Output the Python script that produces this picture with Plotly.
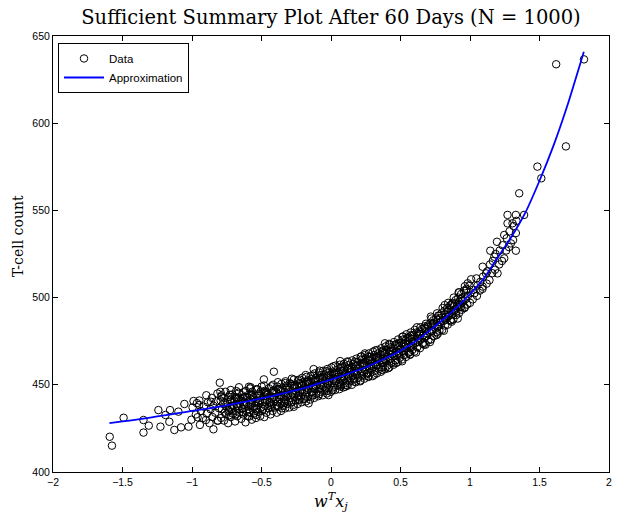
import plotly.graph_objects as go

# ---------------- data ----------------
curve_x = [-1.594, -1.5, -1.4, -1.3, -1.2, -1.1, -1.0, -0.9, -0.8, -0.7, -0.6, -0.5,
           -0.4, -0.3, -0.2, -0.1, 0.0, 0.1, 0.2, 0.3, 0.4, 0.5, 0.6, 0.7, 0.8, 0.9,
           1.0, 1.1, 1.2, 1.3, 1.4, 1.5, 1.6, 1.7, 1.819]
curve_y = [428, 429, 430, 431.2, 432.5, 433.7, 435, 436.2, 437.5, 439, 440.5, 442.2,
           444, 446, 448, 450.5, 453, 455.7, 458.5, 461.8, 465.5, 469.5, 474.5, 480.5,
           487, 494, 502, 511, 523, 535, 549, 567, 587, 610, 641]

left_points = [
    (-1.592, 420.2), (-1.576, 415.1), (-1.492, 431.1), (-1.349, 429.8), (-1.349, 422.6),
    (-1.311, 426.6), (-1.242, 435.5), (-1.227, 426.0), (-1.191, 432.7), (-1.158, 435.5),
    (-1.163, 428.8), (-1.127, 424.1), (-1.098, 434.6), (-1.079, 425.6), (-1.055, 439.0),
    (-1.025, 426.0), (-0.989, 440.7), (-0.960, 431.4), (-0.948, 438.4), (-0.900, 429.8),
    (-0.864, 440.3), (-0.846, 424.5), (-0.800, 451.2), (-0.796, 446.0), (-0.789, 443.2),
    (-0.817, 429.4), (-0.721, 447.0), (-0.662, 448.6), (-0.578, 448.6), (-0.590, 431.8),
    (-0.542, 432.7),
    (-1.004, 430), (-0.996, 437), (-0.972, 433), (-0.965, 439.5), (-0.943, 427),
    (-0.936, 435), (-0.947, 441), (-0.922, 431), (-0.915, 437.5), (-0.893, 433.5),
    (-0.886, 440), (-0.897, 444), (-0.874, 428), (-0.866, 436), (-0.853, 431.5),
    (-0.846, 438), (-0.857, 442.5), (-0.833, 434), (-0.826, 440.5), (-0.813, 429.5),
    (-0.806, 436.5), (-0.817, 445),
]

band_points_neg = [
    (-0.790, 431), (-0.784, 436), (-0.794, 441), (-0.787, 444),
    (-0.770, 429.5), (-0.764, 434), (-0.774, 439), (-0.767, 442.5),
    (-0.755, 433), (-0.750, 437.5), (-0.759, 446),
    (-0.740, 428), (-0.734, 435.5), (-0.744, 440), (-0.737, 443),
    (-0.720, 431.5), (-0.715, 436), (-0.724, 441.5),
    (-0.705, 433.5), (-0.700, 438), (-0.709, 444.5),
    (-0.690, 429), (-0.684, 435), (-0.694, 440.5), (-0.687, 443),
    (-0.675, 432), (-0.670, 437), (-0.679, 442),
    (-0.660, 434), (-0.655, 439), (-0.664, 445.5),
    (-0.645, 430.5), (-0.639, 436.5), (-0.649, 441), (-0.642, 444),
    (-0.630, 433), (-0.625, 438.5), (-0.634, 442.5),
    (-0.615, 428.5), (-0.609, 435), (-0.619, 440), (-0.612, 446.5),
    (-0.600, 432), (-0.595, 437.5), (-0.604, 443),
    (-0.585, 434), (-0.580, 439), (-0.589, 444.5),
    (-0.570, 430), (-0.564, 436.5), (-0.574, 441.5), (-0.567, 446),
    (-0.555, 433.5), (-0.550, 438), (-0.559, 443),
    (-0.540, 431), (-0.534, 436), (-0.544, 440.5), (-0.537, 447.5),
    (-0.525, 434.5), (-0.520, 439.5), (-0.529, 444),
    (-0.510, 432), (-0.504, 437), (-0.514, 442.5), (-0.507, 446),
    (-0.495, 435), (-0.490, 440), (-0.499, 449),
    (-0.480, 431.5), (-0.474, 438), (-0.484, 443.5), (-0.477, 446.5),
    (-0.465, 434), (-0.460, 441), (-0.469, 445),
    (-0.450, 436.5), (-0.444, 440), (-0.454, 444.5), (-0.447, 448),
    (-0.435, 433), (-0.430, 438.5), (-0.439, 442.5),
    (-0.420, 435), (-0.414, 440), (-0.424, 445.5), (-0.417, 450),
    (-0.405, 437), (-0.400, 442), (-0.409, 447),
    (-0.390, 434), (-0.384, 440), (-0.394, 445), (-0.387, 449),
    (-0.375, 437.5), (-0.370, 442), (-0.379, 447.5),
    (-0.360, 435), (-0.354, 439.5), (-0.364, 444), (-0.357, 450.5),
    (-0.345, 438), (-0.340, 443), (-0.349, 448),
    (-0.330, 436.5), (-0.324, 441), (-0.334, 446), (-0.327, 452),
    (-0.315, 439), (-0.310, 444), (-0.319, 449.5),
    (-0.300, 437), (-0.294, 442.5), (-0.304, 447), (-0.297, 451),
    (-0.285, 440), (-0.280, 445), (-0.289, 450.5),
    (-0.270, 438.5), (-0.264, 443), (-0.274, 448), (-0.267, 453),
    (-0.255, 441), (-0.250, 446), (-0.259, 450),
    (-0.240, 439), (-0.234, 444), (-0.244, 449), (-0.237, 452.5),
    (-0.225, 441.5), (-0.220, 446.5), (-0.229, 451),
    (-0.210, 440), (-0.204, 445), (-0.214, 449.5), (-0.207, 454),
    (-0.195, 442), (-0.190, 447), (-0.199, 451.5),
    (-0.180, 440.5), (-0.174, 445.5), (-0.184, 450), (-0.177, 454.5),
    (-0.165, 443), (-0.160, 448), (-0.169, 452.5),
    (-0.150, 441.5), (-0.144, 446), (-0.154, 451), (-0.147, 455),
    (-0.135, 444), (-0.130, 449), (-0.139, 453.5),
    (-0.120, 442.5), (-0.114, 447.5), (-0.124, 452), (-0.117, 456.5),
    (-0.105, 445), (-0.100, 450), (-0.109, 454),
    (-0.090, 443.5), (-0.084, 448), (-0.094, 453), (-0.087, 457),
    (-0.075, 446), (-0.070, 451), (-0.079, 455.5),
    (-0.060, 444), (-0.054, 449), (-0.064, 453.5), (-0.057, 458),
    (-0.045, 447), (-0.040, 452), (-0.049, 456),
    (-0.030, 445), (-0.024, 450), (-0.034, 454.5), (-0.027, 459),
    (-0.015, 448), (-0.010, 453), (-0.019, 457),
]

band_points_pos = [
    (0.000, 446), (0.006, 451), (-0.004, 455.5), (0.003, 460),
    (0.015, 448.5), (0.020, 453.5), (0.011, 457.5),
    (0.030, 447), (0.036, 452), (0.026, 456), (0.033, 461),
    (0.045, 449.5), (0.050, 454.5), (0.041, 458.5),
    (0.060, 447.5), (0.066, 452.5), (0.056, 457), (0.063, 461.5),
    (0.075, 450), (0.080, 455), (0.071, 459.5),
    (0.090, 448.5), (0.096, 453.5), (0.086, 458), (0.093, 462),
    (0.105, 451), (0.110, 456), (0.101, 460.5),
    (0.120, 449.5), (0.126, 454), (0.116, 459), (0.123, 463),
    (0.135, 452), (0.140, 457), (0.131, 461.5),
    (0.150, 450), (0.156, 455), (0.146, 459.5), (0.153, 464),
    (0.165, 453), (0.170, 458), (0.161, 462),
    (0.180, 451.5), (0.186, 456), (0.176, 460.5), (0.183, 465),
    (0.195, 454), (0.200, 459), (0.191, 463),
    (0.210, 452), (0.216, 457), (0.206, 461.5), (0.213, 466),
    (0.225, 455), (0.230, 460), (0.221, 464.5),
    (0.240, 453.5), (0.246, 458.5), (0.236, 462.5), (0.243, 467),
    (0.255, 456), (0.260, 461), (0.251, 465),
    (0.270, 454.5), (0.276, 459.5), (0.266, 464), (0.273, 468),
    (0.285, 457), (0.290, 462), (0.281, 466),
    (0.300, 455), (0.306, 460.5), (0.296, 465), (0.303, 469),
    (0.315, 458), (0.320, 463), (0.311, 467),
    (0.330, 456.5), (0.336, 461.5), (0.326, 466), (0.333, 470),
    (0.345, 459), (0.350, 464), (0.341, 468),
    (0.360, 457.5), (0.366, 462.5), (0.356, 467), (0.363, 471),
    (0.375, 460), (0.380, 465), (0.371, 469),
    (0.390, 459), (0.396, 464), (0.386, 468.5), (0.393, 472),
    (0.405, 461), (0.410, 466), (0.401, 470),
    (0.420, 460), (0.426, 465), (0.416, 469.5), (0.423, 473),
    (0.435, 462.5), (0.440, 467.5), (0.431, 471.5),
    (0.450, 461.5), (0.456, 466.5), (0.446, 471), (0.453, 474.5),
    (0.465, 464), (0.470, 469), (0.461, 473),
    (0.480, 463), (0.486, 468), (0.476, 472.5), (0.483, 476),
    (0.495, 465.5), (0.500, 470.5), (0.491, 474),
    (0.510, 464.5), (0.516, 469.5), (0.506, 474), (0.513, 477.5),
    (0.525, 467), (0.530, 472), (0.521, 476),
    (0.540, 466), (0.546, 471), (0.536, 475.5), (0.543, 479),
    (0.555, 468.5), (0.560, 473.5), (0.551, 477),
    (0.570, 467.5), (0.576, 472.5), (0.566, 477), (0.573, 480),
    (0.585, 470), (0.590, 475), (0.581, 478.5),
    (0.600, 469), (0.606, 474), (0.596, 478.5), (0.603, 481.5),
    (0.620, 471.5), (0.625, 476.5), (0.616, 480),
    (0.640, 471), (0.646, 476), (0.636, 480.5), (0.643, 483),
    (0.660, 473.5), (0.665, 478.5), (0.656, 482),
    (0.680, 473), (0.686, 478), (0.676, 482.5), (0.683, 485),
    (0.700, 475.5), (0.705, 480.5), (0.696, 484),
    (0.720, 476), (0.726, 481), (0.716, 485.5), (0.723, 488),
    (0.740, 478), (0.745, 483), (0.736, 487),
    (0.760, 478.5), (0.766, 483.5), (0.756, 488), (0.763, 491),
    (0.780, 481), (0.785, 486), (0.776, 489.5),
    (0.800, 481.5), (0.806, 486.5), (0.796, 491), (0.803, 494),
    (0.820, 484), (0.825, 489), (0.816, 492.5),
    (0.840, 484.5), (0.846, 489.5), (0.836, 494), (0.843, 497),
    (0.860, 487), (0.865, 492), (0.856, 495.5),
    (0.880, 487.5), (0.886, 492.5), (0.876, 497), (0.883, 500),
    (0.900, 490), (0.905, 495), (0.896, 498.5),
    (0.920, 491), (0.926, 496), (0.916, 500), (0.923, 503),
    (0.940, 493), (0.945, 498), (0.936, 502),
    (0.960, 494), (0.966, 499), (0.956, 504), (0.963, 506.5),
    (0.980, 496), (0.985, 501), (0.976, 505),
]

core_points = [
    (-0.738, 434.7), (-0.760, 439.7), (-0.728, 444.2),
    (-0.688, 433.0), (-0.710, 438.0), (-0.678, 442.5),
    (-0.638, 436.2), (-0.660, 441.2), (-0.628, 445.7),
    (-0.588, 434.5), (-0.610, 439.5), (-0.578, 444.0),
    (-0.538, 437.8), (-0.560, 442.8), (-0.528, 447.3),
    (-0.488, 436.2), (-0.510, 441.2), (-0.478, 445.7),
    (-0.438, 439.6), (-0.460, 444.6), (-0.428, 449.1),
    (-0.388, 438.0), (-0.410, 443.0), (-0.378, 447.5),
    (-0.338, 441.5), (-0.360, 446.5), (-0.328, 451.0),
    (-0.288, 440.0), (-0.310, 445.0), (-0.278, 449.5),
    (-0.238, 443.5), (-0.260, 448.5), (-0.228, 453.0),
    (-0.188, 442.0), (-0.210, 447.0), (-0.178, 451.5),
    (-0.138, 445.8), (-0.160, 450.8), (-0.128, 455.3),
    (-0.088, 444.5), (-0.110, 449.5), (-0.078, 454.0),
    (-0.038, 448.3), (-0.060, 453.3), (-0.028, 457.8),
    (0.012, 447.0), (-0.010, 452.0), (0.022, 456.5),
    (0.062, 450.8), (0.040, 455.8), (0.072, 460.3),
    (0.112, 449.7), (0.090, 454.7), (0.122, 459.2),
    (0.162, 453.6), (0.140, 458.6), (0.172, 463.1),
    (0.212, 452.5), (0.190, 457.5), (0.222, 462.0),
    (0.262, 456.6), (0.240, 461.6), (0.272, 466.1),
    (0.312, 455.8), (0.290, 460.8), (0.322, 465.3),
    (0.362, 460.1), (0.340, 465.1), (0.372, 469.6),
    (0.412, 459.5), (0.390, 464.5), (0.422, 469.0),
    (0.462, 464.0), (0.440, 469.0), (0.472, 473.5),
    (0.512, 463.5), (0.490, 468.5), (0.522, 473.0),
    (0.562, 468.5), (0.540, 473.5), (0.572, 478.0),
    (0.612, 468.5), (0.590, 473.5), (0.622, 478.0),
    (0.662, 474.0), (0.640, 479.0), (0.672, 483.5),
    (0.712, 474.5), (0.690, 479.5), (0.722, 484.0),
    (0.762, 480.2), (0.740, 485.2), (0.772, 489.7),
    (0.812, 481.0), (0.790, 486.0), (0.822, 490.5),
    (0.862, 487.0), (0.840, 492.0), (0.872, 496.5),
    (0.912, 488.0), (0.890, 493.0), (0.922, 497.5),
    (0.962, 494.5), (0.940, 499.5), (0.972, 504.0),
]

core_points_2 = [
    (-0.725, 437.1), (-0.717, 441.6), (-0.732, 432.6),
    (-0.675, 437.9), (-0.667, 442.4), (-0.682, 446.4),
    (-0.625, 438.6), (-0.617, 443.1), (-0.632, 434.1),
    (-0.575, 439.4), (-0.567, 443.9), (-0.582, 447.9),
    (-0.525, 440.3), (-0.517, 444.8), (-0.532, 435.8),
    (-0.475, 441.1), (-0.467, 445.6), (-0.482, 449.6),
    (-0.425, 442.0), (-0.417, 446.5), (-0.432, 437.5),
    (-0.375, 443.0), (-0.367, 447.5), (-0.382, 451.5),
    (-0.325, 444.0), (-0.317, 448.5), (-0.332, 439.5),
    (-0.275, 445.0), (-0.267, 449.5), (-0.282, 453.5),
    (-0.225, 446.0), (-0.217, 450.5), (-0.232, 441.5),
    (-0.175, 447.1), (-0.167, 451.6), (-0.182, 455.6),
    (-0.125, 448.4), (-0.117, 452.9), (-0.132, 443.9),
    (-0.075, 449.6), (-0.067, 454.1), (-0.082, 458.1),
    (-0.025, 450.9), (-0.017, 455.4), (-0.032, 446.4),
    (0.025, 452.1), (0.033, 456.6), (0.018, 460.6),
    (0.075, 453.5), (0.083, 458.0), (0.068, 449.0),
    (0.125, 454.9), (0.133, 459.4), (0.118, 463.4),
    (0.175, 456.3), (0.183, 460.8), (0.168, 451.8),
    (0.225, 457.8), (0.233, 462.3), (0.218, 466.3),
    (0.275, 459.4), (0.283, 463.9), (0.268, 454.9),
    (0.325, 461.2), (0.333, 465.7), (0.318, 469.7),
    (0.375, 463.0), (0.383, 467.5), (0.368, 458.5),
    (0.425, 465.0), (0.433, 469.5), (0.418, 473.5),
    (0.475, 467.0), (0.483, 471.5), (0.468, 462.5),
    (0.525, 469.2), (0.533, 473.7), (0.518, 477.7),
    (0.575, 471.7), (0.583, 476.2), (0.568, 467.2),
    (0.625, 474.5), (0.633, 479.0), (0.618, 483.0),
    (0.675, 477.5), (0.683, 482.0), (0.668, 473.0),
    (0.725, 480.6), (0.733, 485.1), (0.718, 489.1),
    (0.775, 483.8), (0.783, 488.3), (0.768, 479.3),
    (0.825, 487.2), (0.833, 491.7), (0.818, 495.7),
    (0.875, 490.7), (0.883, 495.2), (0.868, 486.2),
    (0.925, 494.5), (0.933, 499.0), (0.918, 503.0),
]

right_points = [
    (1.000, 497), (1.004, 503), (0.996, 507), (1.020, 499), (1.024, 504.5),
    (1.050, 501), (1.054, 507), (1.046, 511), (1.070, 504), (1.074, 509),
    (1.090, 505), (1.094, 512), (1.120, 508), (1.124, 515), (1.140, 510),
    (1.144, 519), (1.160, 514), (1.164, 521), (1.180, 516), (1.184, 525),
    (1.210, 519), (1.214, 527), (1.230, 521), (1.234, 530), (1.260, 527),
    (1.264, 534), (1.280, 529), (1.284, 538), (1.310, 533), (1.314, 541),
    (1.330, 537), (1.334, 544),
    (1.354, 559.8), (1.270, 547.4), (1.330, 547.4), (1.270, 542.6), (1.306, 542.6),
    (1.389, 547.4), (1.246, 535.9), (1.194, 532.0), (1.294, 531.1), (1.330, 526.9),
    (1.146, 526.9), (1.175, 523.4), (1.246, 522.5), (1.091, 517.7), (1.115, 513.9),
    (1.198, 513.9), (1.008, 510.5), (0.984, 508.2), (1.091, 506.3), (1.032, 502.5),
    (0.865, 495.8), (0.936, 494.8), (0.900, 491.9), (0.841, 489.0), (0.769, 487.2),
    (0.698, 483.3),
    (1.485, 575.1), (1.513, 568.4), (1.620, 633.8), (1.820, 636.6), (1.690, 586.7),
]

mid_outliers = [
    (-0.411, 457.5), (-0.483, 453.1), (-0.125, 459.0), (0.066, 463.6), (0.244, 468.0),
    (0.388, 473.8), (-0.590, 448.9), (0.101, 448.9), (-0.018, 444.1), (-0.268, 437.4),
    (-0.352, 436.5), (-0.161, 439.4),
]

x_ticks = [-2, -1.5, -1, -0.5, 0, 0.5, 1, 1.5, 2]
x_tick_text = ["\u22122", "\u22121.5", "\u22121", "\u22120.5", "0", "0.5", "1", "1.5", "2"]
y_ticks = [400, 450, 500, 550, 600, 650]
y_tick_text = ["400", "450", "500", "550", "600", "650"]

# ---------------- figure ----------------
all_points = (left_points + band_points_neg + band_points_pos + core_points
              + core_points_2 + right_points + mid_outliers)
obs_x = [p[0] for p in all_points]
obs_y = [p[1] for p in all_points]

fig = go.Figure()
fig.add_trace(go.Scatter(
    x=obs_x, y=obs_y, mode="markers", name="Data",
    marker=dict(symbol="circle-open", size=7.5, color="black", line=dict(width=1, color="black")),
))
fig.add_trace(go.Scatter(
    x=curve_x, y=curve_y, mode="lines", name="Approximation",
    line=dict(color="#0000FF", width=1.8, shape="spline", smoothing=0.6),
))

tick_font = dict(family="Liberation Sans, Arial, sans-serif", size=10.5, color="black")
axis_common = dict(showline=True, linecolor="black", linewidth=1, mirror="ticks",
                   ticks="inside", ticklen=5, tickcolor="black", showgrid=False,
                   zeroline=False, tickfont=tick_font)

fig.update_xaxes(range=[-2, 2], tickvals=x_ticks, ticktext=x_tick_text, **axis_common)
fig.update_yaxes(range=[400, 650], tickvals=y_ticks, ticktext=y_tick_text, **axis_common)

fig.update_layout(
    width=619, height=514,
    margin=dict(l=53, r=7, t=36, b=42),
    plot_bgcolor="white", paper_bgcolor="white",
    title=dict(text="Sufficient Summary Plot After 60 Days (N = 1000)",
               x=0.5, xref="paper", xanchor="center",
               y=1 - 17 / 514, yref="container", yanchor="middle",
               font=dict(family="DejaVu Serif, serif", size=19.5, color="black")),
    legend=dict(x=0.009, y=0.984, xanchor="left", yanchor="top",
                bordercolor="black", borderwidth=1, bgcolor="white",
                font=dict(family="Liberation Sans, Arial, sans-serif", size=11.5, color="black"),
                tracegroupgap=0, itemwidth=40),
    showlegend=True,
    annotations=[
        dict(text="T-cell count", xref="paper", yref="paper",
             x=(18 - 53) / 559, y=(472 - 236) / 436, textangle=-90,
             showarrow=False, xanchor="center", yanchor="middle",
             font=dict(family="DejaVu Serif, serif", size=14, color="black")),
        dict(text="<i>w</i><sup><i>T</i></sup><i>x</i><sub><i>j</i></sub>",
             xref="paper", yref="paper", x=0.5, y=(472 - 501) / 436,
             showarrow=False, xanchor="center", yanchor="middle",
             font=dict(family="DejaVu Serif, serif", size=16, color="black")),
    ],
)

fig.write_html("out.html")
